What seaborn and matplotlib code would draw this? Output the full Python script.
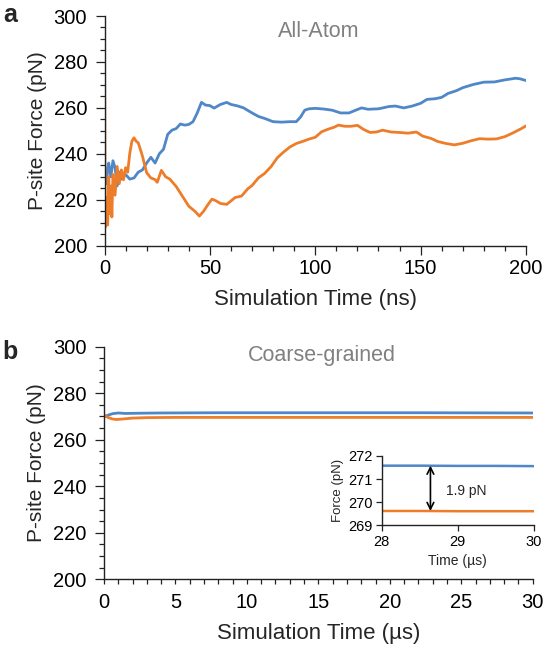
import numpy as np
import pandas as pd
import matplotlib
matplotlib.use("Agg")
import matplotlib.pyplot as plt
from matplotlib.ticker import MultipleLocator
import seaborn as sns

# ---------------- data ----------------
aa_blue_t = [0.3, 0.5, 1, 1.5, 2, 3, 4, 5, 6, 7, 8, 10, 12, 14, 16, 18, 20, 22, 24, 26, 28, 30, 32,
             34, 36, 38, 40, 42, 44, 46, 48, 50, 52, 55, 58, 60, 63, 66, 70, 73, 76, 80, 84, 88,
             91, 93, 95, 97, 100, 104, 108, 112, 116, 120, 122, 125, 130, 135, 138, 142, 146, 150,
             153, 157, 160, 163, 167, 170, 175, 180, 185, 190, 195, 197, 200]
aa_blue_f = [228, 232, 227, 234, 236, 230, 237, 234, 226, 232, 229, 231, 229, 229.5, 232, 233, 236,
             238.5, 236, 240, 242, 248.5, 250.3, 251, 253, 252.5, 252.8, 254, 257.8, 262.4, 261.2,
             261, 259.9, 261.5, 262.4, 261.5, 260.9, 260, 257.8, 256.3, 255.4, 254, 253.8, 254,
             254, 256, 259, 259.6, 259.8, 259.5, 259, 257.8, 257.8, 259.3, 260, 259.4, 259.6,
             260.6, 260.8, 260, 260.8, 262, 263.7, 264, 264.6, 266.3, 267.5, 268.8, 270.2, 271.2,
             271.3, 272.2, 272.9, 272.7, 271.9]

aa_orange_t = [0, 0.3, 0.6, 1, 1.5, 2, 2.5, 3, 3.5, 4, 5, 6, 7, 8, 9, 10, 11, 12, 13, 14, 15, 16,
               17, 18, 20, 22, 24, 25, 27, 29, 31, 34, 37, 40, 43, 45, 47, 49, 51, 53, 55, 58, 60,
               62, 65, 68, 70, 73, 76, 79, 82, 85, 88, 91, 94, 97, 100, 103, 106, 109, 111, 114,
               117, 120, 123, 126, 129, 132, 136, 140, 144, 148, 151, 155, 158, 162, 166, 170, 174,
               178, 182, 186, 190, 194, 198, 200]
aa_orange_f = [300, 208, 212, 221, 209, 230, 214, 226, 212.5, 231, 222, 234.5, 227, 233, 228.7, 234,
               232, 240.3, 245.5, 247, 245.5, 244.8, 242, 239, 231.8, 229.5, 228.8, 227.6, 232.8,
               230, 229, 225.8, 221.5, 217.2, 214.9, 212.9, 215, 217.8, 220.3, 219.5, 218.4, 218,
               219.5, 221, 221.6, 224.8, 226.2, 229.5, 231.5, 234.4, 238.3, 240.8, 243, 244.5,
               245.4, 246.4, 247.2, 249.6, 250.7, 251.6, 252.5, 252, 252, 252.4, 250.6, 249.3,
               249.5, 250.3, 249.5, 249.3, 249, 249.5, 247.7, 246.7, 245.4, 244.5, 243.9, 244.6,
               245.7, 246.6, 246.4, 246.5, 247.5, 249.2, 251.1, 252.2]

cg_blue_t = [0, 0.3, 0.6, 1.0, 1.5, 2.5, 4, 8, 15, 22, 30]
cg_blue_f = [269.8, 270.6, 271.2, 271.5, 271.3, 271.4, 271.5, 271.6, 271.6, 271.6, 271.5]
cg_orange_t = [0, 0.3, 0.6, 0.9, 1.3, 2, 3, 5, 10, 20, 30]
cg_orange_f = [270.6, 269.5, 268.9, 268.7, 268.9, 269.3, 269.5, 269.6, 269.6, 269.6, 269.6]

inset_t = [28.0, 28.5, 29.0, 29.5, 30.0]
inset_blue_f = [271.58, 271.58, 271.57, 271.57, 271.56]
inset_orange_f = [269.61, 269.61, 269.60, 269.60, 269.60]

gap_label = "1.9 pN"
BLUE = "#4F87C8"
ORANGE = "#EE7D2A"
GRAY = "#808080"

# ---------------- style ----------------
sns.set_style("ticks")
plt.rcParams['font.family'] = ['Liberation Sans', 'DejaVu Sans']
plt.rcParams['axes.linewidth'] = 1.0
plt.rcParams['axes.edgecolor'] = '#222222'

fig = plt.figure(figsize=(5.48, 6.48), dpi=100)

def style_axis(ax, tick_fs, xmaj, xmin, ymaj, ymin, xpad, ypad):
    sns.despine(ax=ax)
    ax.tick_params(axis='x', which='major', direction='out', length=xmaj, width=0.9,
                   labelsize=tick_fs, colors='#222222', labelcolor='black', pad=xpad)
    ax.tick_params(axis='y', which='major', direction='out', length=ymaj, width=0.9,
                   labelsize=tick_fs, colors='#222222', labelcolor='black', pad=ypad)
    ax.tick_params(axis='x', which='minor', direction='out', length=xmin, width=0.9,
                   colors='#222222')
    ax.tick_params(axis='y', which='minor', direction='out', length=ymin, width=0.9,
                   colors='#222222')

# ---------------- panel a ----------------
ax1 = fig.add_axes([0.1907, 0.6208, 0.7692, 0.3545])
df_b = pd.DataFrame({"t": aa_blue_t, "f": aa_blue_f})
df_o = pd.DataFrame({"t": aa_orange_t, "f": aa_orange_f})
sns.lineplot(data=df_b, x="t", y="f", ax=ax1, color=BLUE, lw=2.0, estimator=None, sort=False)
sns.lineplot(data=df_o, x="t", y="f", ax=ax1, color=ORANGE, lw=2.0, estimator=None, sort=False)
ax1.set_xlim(0, 200)
ax1.set_ylim(200, 300)
ax1.xaxis.set_major_locator(MultipleLocator(50))
ax1.xaxis.set_minor_locator(MultipleLocator(10))
ax1.yaxis.set_major_locator(MultipleLocator(20))
ax1.yaxis.set_minor_locator(MultipleLocator(5))
style_axis(ax1, 14.5, 6.5, 3.6, 6.5, 3.4, 3.0, 6.0)
ax1.set_xlabel("Simulation Time (ns)", fontsize=16, labelpad=8)
ax1.set_ylabel("P-site Force (pN)", fontsize=15, labelpad=5)
ax1.text(0.509, 0.932, "All-Atom", transform=ax1.transAxes, ha='center', va='center',
         fontsize=15.5, color=GRAY)
fig.text(10 / 548, 1 - 15.5 / 648, "a", fontsize=18, fontweight='bold', ha='center', va='center')

# ---------------- panel b ----------------
ax2 = fig.add_axes([0.1898, 0.106, 0.7823, 0.359])
df_cb = pd.DataFrame({"t": cg_blue_t, "f": cg_blue_f})
df_co = pd.DataFrame({"t": cg_orange_t, "f": cg_orange_f})
sns.lineplot(data=df_cb, x="t", y="f", ax=ax2, color=BLUE, lw=2.0, estimator=None, sort=False)
sns.lineplot(data=df_co, x="t", y="f", ax=ax2, color=ORANGE, lw=2.0, estimator=None, sort=False)
ax2.set_xlim(0, 30)
ax2.set_ylim(200, 300)
ax2.xaxis.set_major_locator(MultipleLocator(5))
ax2.xaxis.set_minor_locator(MultipleLocator(1))
ax2.yaxis.set_major_locator(MultipleLocator(20))
ax2.yaxis.set_minor_locator(MultipleLocator(5))
style_axis(ax2, 14.5, 3.6, 3.6, 6.5, 3.4, 6.0, 6.0)
ax2.set_xlabel("Simulation Time (\u00b5s)", fontsize=16, labelpad=8)
ax2.set_ylabel("P-site Force (pN)", fontsize=15, labelpad=5)
ax2.text(0.508, 0.964, "Coarse-grained", transform=ax2.transAxes, ha='center', va='center',
         fontsize=15.5, color=GRAY)
fig.text(10 / 548, 1 - 352 / 648, "b", fontsize=18, fontweight='bold', ha='center', va='center')

# ---------------- inset ----------------
ax3 = fig.add_axes([0.6965, 0.1898, 0.278, 0.1065])
df_ib = pd.DataFrame({"t": inset_t, "f": inset_blue_f})
df_io = pd.DataFrame({"t": inset_t, "f": inset_orange_f})
sns.lineplot(data=df_ib, x="t", y="f", ax=ax3, color=BLUE, lw=1.8, estimator=None)
sns.lineplot(data=df_io, x="t", y="f", ax=ax3, color=ORANGE, lw=1.8, estimator=None)
ax3.set_xlim(28, 30)
ax3.set_ylim(269, 272)
ax3.xaxis.set_major_locator(MultipleLocator(1))
ax3.yaxis.set_major_locator(MultipleLocator(1))
style_axis(ax3, 10.5, 4.0, 0, 4.0, 0, 3.0, 2.5)
ax3.set_xlabel("Time (\u00b5s)", fontsize=10, labelpad=4)
ax3.set_ylabel("Force (pN)", fontsize=9.5, labelpad=3)
ax3.annotate("", xy=(28.64, inset_orange_f[1]), xytext=(28.64, inset_blue_f[1]),
             arrowprops=dict(arrowstyle="<->", color='black', lw=1.2, shrinkA=0, shrinkB=0,
                             mutation_scale=12))
ax3.text(28.85, 270.5, gap_label, fontsize=10, ha='left', va='center')

fig.savefig("out.png", dpi=100)
